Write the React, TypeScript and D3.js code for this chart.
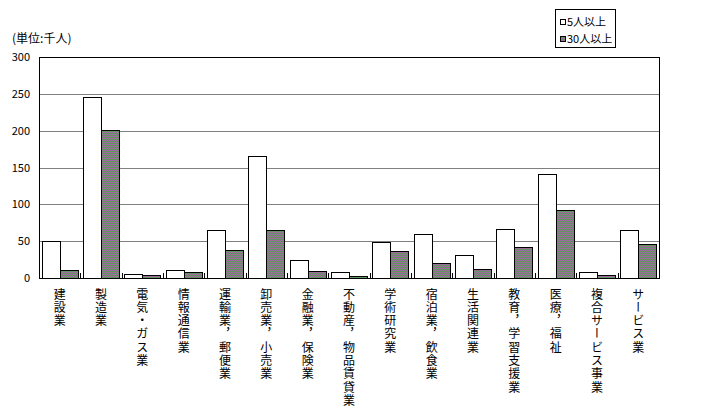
import React from "react";
import * as d3 from "d3";

const categories = [
  "建設業", "製造業", "電気・ガス業", "情報通信業", "運輸業，郵便業", "卸売業，小売業",
  "金融業，保険業", "不動産，物品賃貸業", "学術研究業", "宿泊業，飲食業", "生活関連業",
  "教育，学習支援業", "医療，福祉", "複合サービス事業", "サービス業",
];
const series = ["5人以上", "30人以上"];
const values5 = [50, 246, 5, 11, 65, 165, 24, 8, 49, 60, 31, 67, 141, 8, 65];
const values30 = [11, 201, 4, 8, 38, 65, 10, 3, 37, 20, 12, 42, 92, 4, 46];
const yTicks = [0, 50, 100, 150, 200, 250, 300];

const W = 708, H = 414;
const L = 39, R = 659, T = 57, B = 278;
const FONT = "'Noto Sans CJK JP', 'Noto Sans', sans-serif";

export default function App() {
  const x = d3.scaleBand<string>().domain(categories).range([L, R]).padding(0);
  const bw = x.bandwidth();
  const xs = d3.scaleBand<string>().domain(series).range([0, bw]).paddingInner(0).paddingOuter(0.147);
  const y = d3.scaleLinear().domain([0, 300]).range([B, T]);
  const rows = categories.map((c, i) => ({ c, v: [values5[i], values30[i]] }));
  const px = (v: number) => Math.round(v) + 0.5;

  return (
    <svg width={W} height={H} style={{ position: "absolute", left: 0, top: 0, background: "#fff" }}>
      <defs>
        <pattern id="dither" width={2} height={2} patternUnits="userSpaceOnUse">
          <rect x={0} y={0} width={2} height={2} fill="#669966" />
          <rect x={0} y={0} width={1} height={1} fill="#996699" />
          <rect x={1} y={1} width={1} height={1} fill="#996699" />
        </pattern>
      </defs>
      <rect x={0} y={0} width={W} height={H} fill="#fff" />
      <text x={12} y={43} fontFamily={FONT} fontSize={12} fill="#000">(単位:千人)</text>
      {yTicks.slice(1, -1).map((t) => (
        <line key={t} x1={L} x2={R} y1={px(y(t))} y2={px(y(t))} stroke="#808080" strokeWidth={1} shapeRendering="crispEdges" />
      ))}
      {yTicks.map((t) => (
        <text key={"l" + t} x={30} y={y(t) + 4} textAnchor="end" fontFamily={FONT} fontSize={11} fill="#000">{t}</text>
      ))}
      {rows.map((r) => (
        <g key={r.c}>
          {series.map((s, k) => {
            const x0 = Math.round((x(r.c) as number) + (xs(s) as number));
            const x1 = Math.round((x(r.c) as number) + (xs(s) as number) + xs.bandwidth());
            const yt = Math.round(y(r.v[k]));
            return (
              <rect key={s} x={x0 + 0.5} y={yt + 0.5} width={x1 - x0} height={B - yt}
                fill={k === 0 ? "#fff" : "url(#dither)"} stroke="#000" strokeWidth={1} shapeRendering="crispEdges" />
            );
          })}
        </g>
      ))}
      {[...categories.map((c) => x(c) as number), R].map((bx, i) => (
        <line key={"t" + i} x1={px(bx)} x2={px(bx)} y1={B} y2={B - 5} stroke="#000" strokeWidth={1} shapeRendering="crispEdges" />
      ))}
      <rect x={L + 0.5} y={T + 0.5} width={R - L} height={B - T} fill="none" stroke="#000" strokeWidth={1} shapeRendering="crispEdges" />
      {rows.map((r) => {
        const cx = (x(r.c) as number) + bw / 2;
        return (
          <text key={"c" + r.c} x={cx} y={288} fontFamily={FONT} fontSize={12} fill="#000"
            style={{ writingMode: "vertical-rl", textOrientation: "upright", letterSpacing: "1.3px" } as any}>
            {r.c}
          </text>
        );
      })}
      <rect x={555.5} y={9.5} width={60} height={38} fill="#fff" stroke="#000" strokeWidth={1} shapeRendering="crispEdges" />
      <rect x={560.5} y={19.5} width={5} height={5} fill="#fff" stroke="#000" strokeWidth={1} shapeRendering="crispEdges" />
      <text x={567} y={26} fontFamily={FONT} fontSize={11} fill="#000">{series[0]}</text>
      <rect x={560.5} y={36.5} width={5} height={5} fill="url(#dither)" stroke="#000" strokeWidth={1} shapeRendering="crispEdges" />
      <text x={567} y={43} fontFamily={FONT} fontSize={11} fill="#000">{series[1]}</text>
    </svg>
  );
}
